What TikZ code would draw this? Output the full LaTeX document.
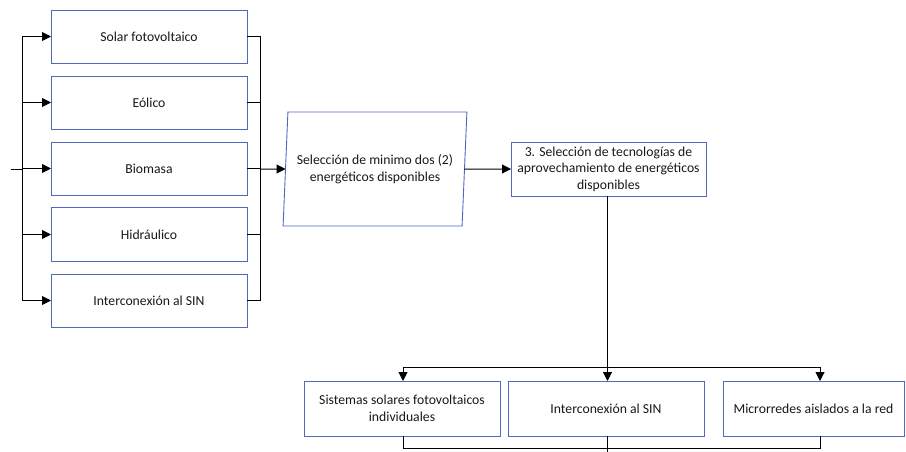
\documentclass[tikz,border=0pt]{standalone}
\usepackage{fontspec}
\setmainfont{Carlito}
\usetikzlibrary{arrows.meta,shapes.geometric}
\definecolor{boxblue}{RGB}{80,105,190}
\definecolor{txt}{RGB}{25,25,25}
\tikzset{
  box/.style={draw=boxblue, line width=0.9pt, fill=white, rectangle, inner sep=0pt, outer sep=0pt,
    align=center, text=txt, font=\fontsize{13.7}{16.5}\selectfont},
  conn/.style={draw=black, line width=1pt},
  arr/.style={conn, -{Triangle[length=9pt,width=9pt]}},
}
\begin{document}
\begin{tikzpicture}[x=1pt,y=-1pt]
\useasboundingbox (0,0) rectangle (906,452);
% left boxes
\node[box, minimum width=196pt, minimum height=53pt] (s1) at (149,36.5) {Solar fotovoltaico};
\node[box, minimum width=196pt, minimum height=53pt] (s2) at (149,102.5) {Eólico};
\node[box, minimum width=196pt, minimum height=53pt] (s3) at (149,168.5) {Biomasa};
\node[box, minimum width=196pt, minimum height=54pt] (s4) at (149,234.5) {Hidráulico};
\node[box, minimum width=196pt, minimum height=53pt] (s5) at (149,300.5) {Interconexión al SIN};
% parallelogram
\node[box, trapezium, trapezium left angle=81.5, trapezium right angle=98.5, trapezium stretches=true,
  minimum width=184pt, minimum height=114pt] (sel) at (375,169) {Selección de minimo dos (2)\\energéticos disponibles};
% box 3
\node[box, minimum width=195pt, minimum height=54pt] (b3) at (608.5,169) {3. Selección de tecnologías de\\aprovechamiento de energéticos\\disponibles};
% bottom boxes
\node[box, minimum width=196pt, minimum height=55pt] (o1) at (402,408.5) {Sistemas solares fotovoltaicos\\individuales};
\node[box, minimum width=196pt, minimum height=55pt] (o2) at (606,408.5) {Interconexión al SIN};
\node[box, minimum width=181pt, minimum height=55pt] (o3) at (813.5,408.5) {Microrredes aislados a la red};
% coordinates
\coordinate (in) at (11,169);
\coordinate (tl) at (22,169);
\coordinate (tr) at (260,169);
\coordinate (d1) at (403,367);
\coordinate (d2) at (607.5,367);
\coordinate (d3) at (820,367);
\coordinate (e1) at (403,448);
\coordinate (e3) at (820,448);
\coordinate (e2) at (607.5,452);
% left trunk
\draw[conn] (in) -- (tl);
\draw[conn] (tl |- s1.west) -- (tl |- s5.west);
\foreach \n in {s1,s2,s3,s4,s5} { \draw[arr] (tl |- \n.west) -- (\n.west); }
% right trunk
\draw[conn] (tr |- s1.east) -- (tr |- s5.east);
\foreach \n in {s1,s2,s3,s4,s5} { \draw[conn] (\n.east) -- (tr |- \n.east); }
\draw[arr] (tr) -- (sel.west);
\draw[arr] (sel.east) -- (b3.west);
% down from box 3
\draw[conn, line width=1.4pt] (b3.south -| d2) -- (d2);
\draw[conn] (d1) -- (d3);
\draw[arr] (d1) -- (d1 |- o1.north);
\draw[arr] (d2) -- (d2 |- o2.north);
\draw[arr] (d3) -- (d3 |- o3.north);
% bottom join
\draw[conn] (e1 |- o1.south) -- (e1) -- (e3) -- (e3 |- o3.south);
\draw[conn] (e2 |- o2.south) -- (e2);
\end{tikzpicture}
\end{document}
